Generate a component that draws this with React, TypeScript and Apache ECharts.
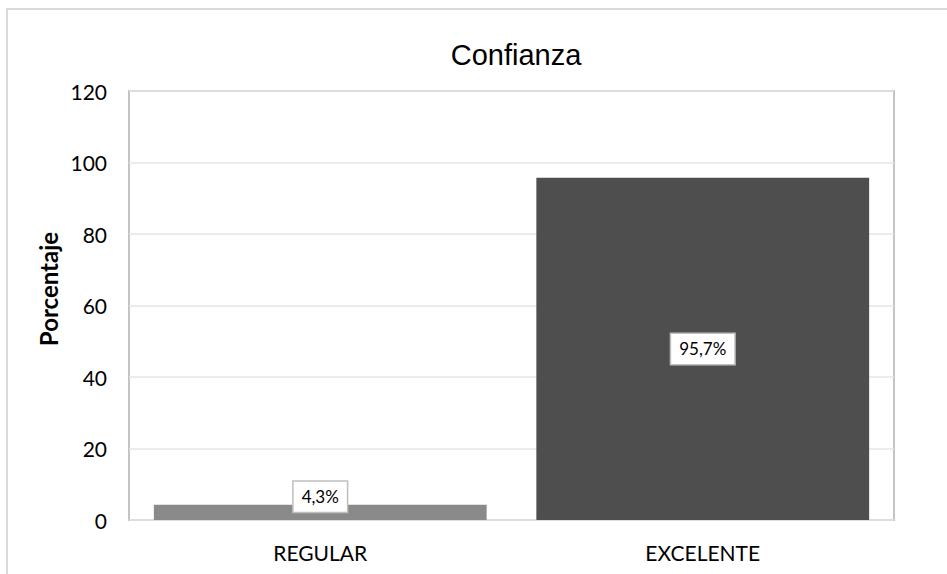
import React, { useEffect, useRef } from "react";
import * as echarts from "echarts";

// Confianza: porcentaje por categoría
const categories = ["REGULAR", "EXCELENTE"];
const values = [4.3, 95.7];
const barColors = ["#8a8a8a", "#4e4e4e"];
const yTicks = { min: 0, max: 120, interval: 20 };

const LABEL_FONT = "Lato, 'Open Sans', sans-serif";

export default function App() {
  const ref = useRef<HTMLDivElement>(null);

  useEffect(() => {
    if (!ref.current) return;
    const chart = echarts.init(ref.current, null, { renderer: "svg" });

    const fmt = (v: number) => v.toFixed(1).replace(".", ",") + "%";

    const labelBase = {
      show: true,
      formatter: (p: any) => fmt(p.value),
      color: "#000",
      fontFamily: LABEL_FONT,
      fontSize: 17,
      backgroundColor: "#ffffff",
      borderColor: "#bfbfbf",
      borderWidth: 1.5,
      padding: [7, 8, 6, 8],
    };

    chart.setOption({
      animation: false,
      backgroundColor: "#ffffff",
      title: {
        text: "Confianza",
        left: 511,
        top: 35,
        textAlign: "center",
        textStyle: {
          fontFamily: "'Liberation Sans', Arial, sans-serif",
          fontSize: 29,
          fontWeight: "normal",
          color: "#000",
        },
      },
      grid: {
        left: 129,
        right: 53,
        top: 91,
        bottom: 54,
        show: true,
        borderColor: "#c4c4c4",
        borderWidth: 2,
        backgroundColor: "transparent",
      },
      xAxis: {
        type: "category",
        data: categories,
        axisLine: { show: false },
        axisTick: { show: false },
        axisLabel: {
          color: "#000",
          fontFamily: LABEL_FONT,
          fontSize: 21,
          margin: 22,
        },
      },
      yAxis: {
        type: "value",
        min: yTicks.min,
        max: yTicks.max,
        interval: yTicks.interval,
        axisLine: { show: false },
        axisTick: { show: false },
        splitLine: { lineStyle: { color: "#e6e6e6", width: 1.5 } },
        axisLabel: {
          color: "#000",
          fontFamily: LABEL_FONT,
          fontSize: 21,
          margin: 22,
        },
      },
      graphic: [
        {
          type: "rect",
          silent: true,
          z: -1,
          shape: { x: 7, y: 9, width: 980, height: 620 },
          style: { fill: "none", stroke: "#d9d9d9", lineWidth: 2 },
        },
        {
          type: "text",
          x: 48,
          y: 289,
          rotation: Math.PI / 2,
          style: {
            text: "Porcentaje",
            fontFamily: LABEL_FONT,
            fontWeight: "bold",
            fontSize: 24,
            fill: "#000",
            align: "center",
            verticalAlign: "middle",
          },
        },
      ],
      series: [
        {
          type: "bar",
          barCategoryGap: "13%",
          data: values.map((v, i) => ({
            value: v,
            itemStyle: { color: barColors[i] },
            label:
              v < 10
                ? { ...labelBase, position: "inside", offset: [0, -15.5] }
                : { ...labelBase, position: "inside" },
          })),
          label: labelBase,
        },
      ],
    });

    return () => chart.dispose();
  }, []);

  return (
    <div
      ref={ref}
      style={{ position: "fixed", left: 0, top: 0, width: 947, height: 574 }}
    />
  );
}
